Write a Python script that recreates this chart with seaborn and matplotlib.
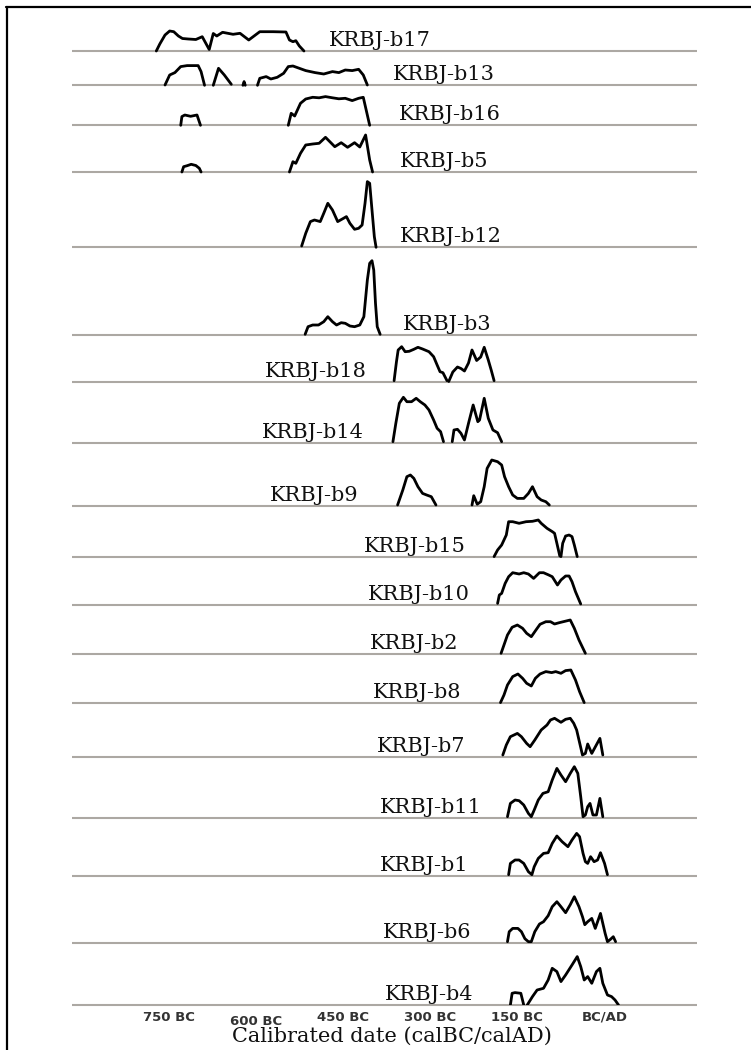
import numpy as np
import pandas as pd
import matplotlib
matplotlib.use("Agg")
import matplotlib.pyplot as plt
import matplotlib.transforms as mtransforms
from matplotlib.lines import Line2D
import seaborn as sns

NA = np.nan  # breaks a distribution into separate ranges

# ---- calibrated probability distributions (year, relative probability) ----
b17_year = [-771, -765, -756, -748, -741, -733, -726, -716, -703, -692, -680, -673, -667, -657,
            -639, -627, -612, -593, -570, -548, -542, -536, -531, -525, -517]
b17_prob = [0, 7, 16, 20, 19.3, 15, 12.5, 12, 11.5, 14.3, 1.5, 17.5, 15, 18.7,
            16.7, 17.7, 11, 19.3, 19.3, 19, 11, 9.3, 10.3, 5, 0]

b13_year = [-756, -748, -739, -729, -718, -699, -694, -688, NA,
            -673, -664, -654, -642, NA,
            -622, -620, -618, NA,
            -597, -593, -582, -574, -563, -552, -544, -536, -525, -514, -498, -483, -468,
            -457, -446, -434, -423, -415, -408]
b13_prob = [0.3, 10.3, 12.7, 18.7, 19.7, 19.7, 13.7, 0, NA,
            0, 17, 10.3, 1, NA,
            0, 3.7, 0, NA,
            0, 7, 8.7, 6.3, 8, 12, 18.7, 19.3, 17, 14.7, 12.7, 11.3, 13.7,
            12.7, 15.3, 14.7, 16, 10.3, 0.3]

b16_year = [-729, -727, -722, -712, -701, -695, NA,
            -544, -539, -533, -523, -514, -502, -491, -480, -468, -457, -446, -434, -423,
            -415, -410, -404]
b16_prob = [0, 8.7, 10.3, 9, 10.3, 0, NA,
            0, 12, 9.3, 22, 26.3, 28, 27.5, 28.7, 27.5, 26.5, 27, 24.7, 27,
            28, 15.3, 0]

b5_year = [-727, -724, -718, -711, -703, -697, -694, NA,
           -542, -536, -531, -523, -514, -502, -491, -480, -464, -453, -442, -430, -421,
           -411, -404, -399]
b5_prob = [0, 5.3, 6.3, 7.7, 6.5, 3.7, 0, NA,
           0, 10.3, 8.7, 18.7, 27, 28, 28.7, 34.7, 25.3, 29.3, 24.7, 29.3, 25,
           37, 12, 0]

b12_year = [-521, -514, -506, -499, -489, -483, -476, -468, -459, -449, -444, -438, -430,
            -423, -417, -412, -408, -404, -400, -396, -393]
b12_prob = [1.3, 14, 25.7, 27.3, 25.7, 34, 44, 37.3, 25.7, 29, 30.7, 24, 18,
            19, 22.3, 44, 65.7, 64, 37.3, 10.7, 0]

b3_year = [-515, -510, -502, -492, -483, -476, -468, -461, -453, -446, -438, -430, -421,
           -414, -408, -404, -400, -397, -394, -391, -386]
b3_prob = [0.7, 8.3, 10, 10, 13.3, 18.3, 13.3, 10, 12.3, 11.7, 9, 8.3, 10,
           18.3, 55, 71.7, 74.3, 65, 31.7, 8.3, 0.7]

b18_year = [-362, -358, -355, -349, -343, -336, -328, -321, -313, -302, -294, -288, -283,
            -278, -271, NA,
            -268, -261, -253, -247, -241, -234, -228, -220, -213, -207, -200, -195, -190]
b18_prob = [1.3, 20, 32, 35.3, 30.3, 30.7, 32.7, 34.7, 33, 30.3, 25.3, 17, 10.3,
            9.3, 1.3, NA,
            0.5, 10, 15, 13.5, 11, 19, 32, 21.5, 25, 34.7, 22, 12, 1.3]

b14_year = [-364, -359, -353, -346, -340, -332, -324, -317, -309, -302, -294, -288, -282,
            -277, NA,
            -262, -259, -253, -247, -241, -234, -226, -218, -215, -207, -200, -192, -184, -177]
b14_prob = [1.3, 19.7, 39.7, 45.7, 41.3, 41.3, 44.7, 41.3, 38, 33, 23, 14.7, 11.3,
            1.3, NA,
            1.3, 13, 13.7, 9.7, 3, 19.7, 38, 21.3, 23, 44.7, 24.7, 13, 10.3, 1.3]

b9_year = [-356, -347, -340, -334, -328, -321, -313, -306, -298, -290, NA,
           -228, -225, -219, -213, -207, -202, -194, -184, -177, -172, -165, -158, -150,
           -139, -131, -124, -116, -109, -101, -95]
b9_prob = [0.7, 15.7, 29, 30.7, 27.3, 19, 12.3, 10.7, 9, 0.7, NA,
           0.7, 10, 1.5, 4, 19, 37.3, 45.7, 44, 40.7, 29, 19, 10.7, 7.3,
           7.3, 12.3, 19, 9, 5.7, 4, 0.7]

b15_year = [-190, -184, -177, -169, -165, -158, -147, -135, -124, -114, -109, -99, -90,
            -86, -82, -77, NA,
            -75, -72, -67, -61, -56, -52, -47]
b15_prob = [0.7, 7.3, 12.3, 22.3, 35.6, 35.6, 34, 35.6, 36, 37.3, 34, 29, 25.7,
            24, 14, 1.3, NA,
            0.7, 14, 21.3, 22.3, 20.7, 12.3, 0.7]

b10_year = [-184, -181, -177, -171, -165, -158, -147, -139, -131, -122, -112, -105, -96,
            -90, -81, -75, -67, -61, -56, -50, -41]
b10_prob = [1.3, 9.7, 11.3, 21.3, 28, 32, 30.7, 32, 30.7, 26.3, 32, 32, 29.7,
            28, 19.7, 24.7, 28.7, 28.7, 23, 13, 0.7]

b2_year = [-178, -173, -167, -159, -150, -141, -134, -126, -118, -111, -101, -93, -86,
           -78, -71, -59, -52, -44, -33]
b2_prob = [0.7, 9, 19, 26.7, 29, 25.7, 20.7, 17.3, 24, 29.7, 32.3, 32.3, 30,
           31.3, 32.3, 34, 25.7, 14, 0.7]

b8_year = [-179, -173, -167, -158, -149, -141, -134, -126, -119, -111, -101, -91, -84,
           -75, -67, -58, -50, -43, -35]
b8_prob = [0.7, 8.3, 18.3, 26.7, 29.3, 25, 20, 17.3, 25, 29.3, 31.7, 30.7, 31.7,
           30, 32.7, 33.3, 23.3, 11.7, 0.7]

b7_year = [-175, -169, -162, -150, -143, -134, -128, -120, -109, -99, -93, -86, -75,
           -67, -59, -53, -48, -44, -38, -33, -29, -22, -8, -3]
b7_prob = [1.7, 11.7, 20, 23.3, 20, 13.3, 10, 16.7, 26.7, 31.7, 36.7, 38.4, 34.4,
           37.4, 38.4, 33.4, 26.7, 16.7, 1.7, 3.3, 12.7, 3.3, 18.3, 1.7]

b11_year = [-167, -162, -154, -147, -139, -131, -126, -121, -114, -106, -97, -90, -82,
            -75, -67, -59, -52, -46, -41, -37, -33, -29, -25, -20, -14, -8, -3]
b11_prob = [1, 14.3, 17.7, 17, 12.7, 4.3, 1, 7.7, 17.7, 24.3, 26, 37.7, 49.3,
            42.7, 36, 44.3, 51, 44.3, 21, 1, 2.7, 11, 14.3, 2.7, 2.7, 19.3, 1]

b1_year = [-165, -162, -154, -147, -139, -131, -125, -121, -114, -105, -97, -90, -82,
           -73, -63, -56, -48, -43, -37, -33, -29, -24, -18, -12, -7, 0, 5]
b1_prob = [1, 12.3, 15.7, 15.7, 12.3, 4, 1, 9, 17.3, 22.3, 23, 32.3, 39.7,
           34, 29, 35.7, 42.3, 39, 22.3, 14, 12.3, 19, 14, 15.7, 23, 12.3, 1]

b6_year = [-167, -164, -158, -149, -143, -137, -131, -126, -120, -112, -105, -97, -90,
           -82, -75, -67, -59, -52, -44, -38, -34, -29, -22, -16, -10, -7, 1, 5, 10, 15, 19]
b6_prob = [1, 11, 14.3, 14.3, 11, 4, 1, 1, 11, 18.7, 21, 27, 36,
           41, 36, 30, 38, 46, 36, 26, 18, 21, 24.3, 14.3, 24.3, 29.3, 9.3, 1, 3.3, 6, 1]

b4_year = [-162, -159, -154, -144, -139, NA,
           -133, -124, -116, -105, -97, -90, -82, -75, -67, -56, -47, -41, -35, -29, -22,
           -14, -8, -3, 5, 12, 18, 24]
b4_prob = [0.3, 12, 12.7, 12, 0.3, NA,
           0.3, 8.7, 15.3, 17, 25.3, 37, 33.7, 23.7, 30.3, 40.3, 48.7, 38.7, 25.3, 28.7, 22,
           33.7, 37, 22, 10.3, 8.7, 5.3, 0.3]

samples = ["KRBJ-b17", "KRBJ-b13", "KRBJ-b16", "KRBJ-b5", "KRBJ-b12", "KRBJ-b3",
           "KRBJ-b18", "KRBJ-b14", "KRBJ-b9", "KRBJ-b15", "KRBJ-b10", "KRBJ-b2",
           "KRBJ-b8", "KRBJ-b7", "KRBJ-b11", "KRBJ-b1", "KRBJ-b6", "KRBJ-b4"]

tick_years = [-750, -600, -450, -300, -150, 0]
tick_labels = ["750 BC", "600 BC", "450 BC", "300 BC", "150 BC", "BC/AD"]

# ---- layout: row baselines (stacked from the bottom) and label anchors ----
row_base = [954.3, 920, 880, 833.3, 758, 670.3, 623.3, 562.3, 499.6, 448,
            400.6, 351.3, 302, 248.6, 187.6, 129.6, 62.6, 0]
label_x = [-475, -364, -353.5, -352, -352, -346.6, -584.7, -589.2, -575.5, -414.4,
           -406.9, -403.4, -398.2, -391.3, -386.2, -386.2, -381, -377.6]

series = {
    "KRBJ-b17": (b17_year, b17_prob), "KRBJ-b13": (b13_year, b13_prob),
    "KRBJ-b16": (b16_year, b16_prob), "KRBJ-b5": (b5_year, b5_prob),
    "KRBJ-b12": (b12_year, b12_prob), "KRBJ-b3": (b3_year, b3_prob),
    "KRBJ-b18": (b18_year, b18_prob), "KRBJ-b14": (b14_year, b14_prob),
    "KRBJ-b9": (b9_year, b9_prob), "KRBJ-b15": (b15_year, b15_prob),
    "KRBJ-b10": (b10_year, b10_prob), "KRBJ-b2": (b2_year, b2_prob),
    "KRBJ-b8": (b8_year, b8_prob), "KRBJ-b7": (b7_year, b7_prob),
    "KRBJ-b11": (b11_year, b11_prob), "KRBJ-b1": (b1_year, b1_prob),
    "KRBJ-b6": (b6_year, b6_prob), "KRBJ-b4": (b4_year, b4_prob),
}

frames = []
for name, base in zip(samples, row_base):
    yr, pr = series[name]
    yr = np.asarray(yr, dtype=float)
    pr = np.asarray(pr, dtype=float)
    seg = np.cumsum(np.isnan(yr))
    df = pd.DataFrame({"year": yr, "level": pr + base, "seg": seg})
    df = df.dropna()
    df["unit"] = name + "_" + df["seg"].astype(int).astype(str)
    frames.append(df)
data = pd.concat(frames, ignore_index=True)

sns.set_style("white")

W, H = 751, 1050
fig = plt.figure(figsize=(W / 100, H / 100), dpi=100)
ax = fig.add_axes([72 / W, 1 - 1005.3 / H, 625 / W, 995.3 / H])

x_lo, x_hi = -916, 159
ax.hlines(row_base, x_lo, x_hi, color="#aca8a3", lw=1.5, zorder=1, clip_on=False)

sns.lineplot(data=data, x="year", y="level", units="unit", estimator=None, sort=False,
             color="black", lw=2.0, ax=ax, zorder=3, legend=False,
             solid_joinstyle="round", solid_capstyle="round")

for name, base, lx in zip(samples, row_base, label_x):
    ax.text(lx, base + 5, name, family="DejaVu Serif", fontsize=15, color="#111111",
            ha="left", va="baseline")

ax.set_xlim(x_lo, x_hi)
ax.set_ylim(0, 995.3)
for s in ax.spines.values():
    s.set_visible(False)
ax.set_yticks([])
ax.set_ylabel("")
ax.set_xticks(tick_years)
ax.set_xticklabels(tick_labels, fontweight="bold", family="DejaVu Sans")
ax.tick_params(axis="x", length=0, pad=4, labelsize=9.5, labelcolor="#333333")

# the "600 BC" label sits slightly lower than its neighbours
shift = mtransforms.ScaledTranslation(0, -4 / 100, fig.dpi_scale_trans)
lbl = ax.get_xticklabels()[1]
lbl.set_transform(lbl.get_transform() + shift)

ax.set_xlabel("Calibrated date (calBC/calAD)", family="DejaVu Serif", fontsize=15,
              color="#111111")
ax.xaxis.set_label_coords(0.512, -0.0308)
ax.xaxis.label.set_va("center")

# page frame (top and left edges)
fig.add_artist(Line2D([6 / W, 1.0], [1 - 7 / H, 1 - 7 / H], transform=fig.transFigure,
                      color="black", lw=1.6))
fig.add_artist(Line2D([7 / W, 7 / W], [0.0, 1 - 7 / H], transform=fig.transFigure,
                      color="black", lw=1.6))

fig.savefig("out.png", dpi=100, facecolor="white")
